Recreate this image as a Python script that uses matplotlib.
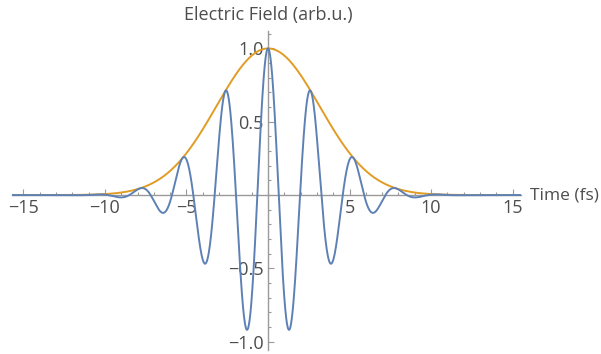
import numpy as np
import matplotlib
matplotlib.use("Agg")
import matplotlib.pyplot as plt
from matplotlib.ticker import MultipleLocator, FixedLocator

# pulse parameters
t_min, t_max = -15.7, 15.5        # fs, plot range
pulse_width = 4.47                # fs, 1/e half width of the envelope
carrier_omega = 2.4               # rad/fs, carrier frequency
peak_field = 1.0                  # arb.u.

x_ticks = [-15, -10, -5, 5, 10, 15]
x_ticklabels = ["\u221215", "\u221210", "\u22125", "5", "10", "15"]
y_ticks = [-1.0, -0.5, 0.5, 1.0]
y_ticklabels = ["\u22121.0", "\u22120.5", "0.5", "1.0"]

xlabel = "Time (fs)"
ylabel = "Electric Field (arb.u.)"

blue = "#5e81b5"
orange = "#e19c24"
axis_grey = "#9a9a9a"
text_grey = "#4d4d4d"

plt.rcParams['font.family'] = ['Open Sans', 'DejaVu Sans']

t = np.linspace(t_min, t_max, 4000)
envelope = peak_field * np.exp(-(t / pulse_width) ** 2)
field = envelope * np.cos(carrier_omega * t)

fig = plt.figure(figsize=(6.01, 3.54), dpi=100)
# x: 0 fs sits at ~268 px, 16.3 px per fs
ax = fig.add_axes([0.02, 0.0099, 0.8465, 0.903])

ax.plot(t, field, color=blue, lw=1.4, zorder=3)
ax.plot(t, envelope, color=orange, lw=1.4, zorder=2)

ax.set_xlim(t_min, t_max)
ax.set_ylim(-1.06, 1.12)

for side in ("top", "right"):
    ax.spines[side].set_visible(False)
ax.spines["left"].set_position(("data", 0))
ax.spines["bottom"].set_position(("data", 0))
for side in ("left", "bottom"):
    ax.spines[side].set_color(axis_grey)
    ax.spines[side].set_linewidth(1.0)

ax.xaxis.set_major_locator(FixedLocator(x_ticks))
ax.xaxis.set_minor_locator(MultipleLocator(1))
ax.yaxis.set_major_locator(FixedLocator(y_ticks))
ax.yaxis.set_minor_locator(MultipleLocator(0.1))
ax.set_xticklabels(x_ticklabels)
ax.set_yticklabels(y_ticklabels)

ax.tick_params(which="both", direction="in", color=axis_grey, labelcolor=text_grey,
               labelsize=13, width=0.8)
ax.tick_params(which="major", length=4, pad=3)
ax.tick_params(which="minor", length=2.5)

ax.text(t_max + 0.55, 0, xlabel, ha="left", va="center", fontsize=12.5,
        color=text_grey, clip_on=False)
ax.text(0, 1.12 + 0.05, ylabel, ha="center", va="bottom", fontsize=13,
        color=text_grey, clip_on=False)

fig.savefig("out.png", dpi=100, facecolor="white")
